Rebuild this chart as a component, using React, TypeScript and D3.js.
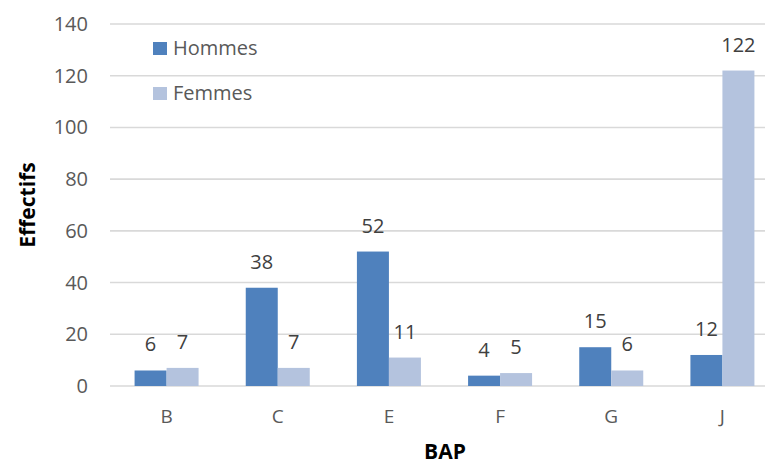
import * as React from 'react';
import * as d3 from 'd3';

const categories = ['B', 'C', 'E', 'F', 'G', 'J'];
const hommes = [6, 38, 52, 4, 15, 12];
const femmes = [7, 7, 11, 5, 6, 122];
const yTicks = [0, 20, 40, 60, 80, 100, 120, 140];
const seriesNames = ['Hommes', 'Femmes'];

const W = 765;
const H = 466;
const FONT = "'Open Sans', sans-serif";
const colors = ['#4F81BD', '#B4C3DE'];

export default function App() {
  const svgRef = React.useRef<SVGSVGElement>(null);

  React.useEffect(() => {
    if (!svgRef.current) return;
    const svg = d3.select(svgRef.current);
    svg.selectAll('*').remove();

    const left = 111;
    const right = 778;
    const top = 24;
    const bottom = 386;

    const x = d3.scaleBand().domain(categories).range([left, right]).paddingInner(0).paddingOuter(0);
    const y = d3.scaleLinear().domain([0, 140]).range([bottom, top]);
    const barW = 32;

    // gridlines
    svg
      .append('g')
      .selectAll('line')
      .data(yTicks)
      .enter()
      .append('line')
      .attr('x1', left - 1)
      .attr('x2', right)
      .attr('y1', (d) => y(d))
      .attr('y2', (d) => y(d))
      .attr('stroke', '#D9D9D9')
      .attr('stroke-width', 1.6);

    // y tick labels
    svg
      .append('g')
      .selectAll('text')
      .data(yTicks)
      .enter()
      .append('text')
      .attr('x', 88)
      .attr('y', (d) => y(d))
      .attr('dy', '0.35em')
      .attr('text-anchor', 'end')
      .style('font-family', FONT)
      .style('font-size', '20px')
      .attr('fill', '#595959')
      .text((d) => d);

    const series = [hommes, femmes];
    series.forEach((vals, si) => {
      const g = svg.append('g');
      const xpos = (i: number) => (x(categories[i]) as number) + x.bandwidth() / 2 + (si === 0 ? -barW : 0);
      g.selectAll('rect')
        .data(vals)
        .enter()
        .append('rect')
        .attr('x', (_d, i) => xpos(i))
        .attr('y', (d) => y(d))
        .attr('width', barW)
        .attr('height', (d) => bottom - y(d))
        .attr('fill', colors[si]);
      g.selectAll('text')
        .data(vals)
        .enter()
        .append('text')
        .attr('x', (_d, i) => xpos(i) + barW / 2)
        .attr('y', (d) => y(d) - 19)
        .attr('text-anchor', 'middle')
        .style('font-family', FONT)
        .style('font-size', '20px')
        .attr('fill', '#404040')
        .text((d) => d);
    });

    // category labels
    svg
      .append('g')
      .selectAll('text')
      .data(categories)
      .enter()
      .append('text')
      .attr('x', (d) => (x(d) as number) + x.bandwidth() / 2)
      .attr('y', 416)
      .attr('dy', '0.35em')
      .attr('text-anchor', 'middle')
      .style('font-family', FONT)
      .style('font-size', '19px')
      .attr('fill', '#595959')
      .text((d) => d);

    // axis titles
    svg
      .append('text')
      .attr('x', 445)
      .attr('y', 459)
      .attr('text-anchor', 'middle')
      .style('font-family', FONT)
      .style('font-size', '21px')
      .style('font-weight', 'bold')
      .attr('fill', '#000')
      .text('BAP');
    svg
      .append('text')
      .attr('transform', `translate(28, 205) rotate(-90)`)
      .attr('dy', '0.35em')
      .attr('text-anchor', 'middle')
      .style('font-family', FONT)
      .style('font-size', '21px')
      .style('font-weight', 'bold')
      .attr('fill', '#000')
      .text('Effectifs');

    // legend
    const legend = svg.append('g');
    seriesNames.forEach((name, i) => {
      const cy = 48 + i * 45;
      legend
        .append('rect')
        .attr('x', 153)
        .attr('y', cy - 6)
        .attr('width', 14)
        .attr('height', 13)
        .attr('fill', colors[i]);
      legend
        .append('text')
        .attr('x', 173)
        .attr('y', cy)
        .attr('dy', '0.35em')
        .style('font-family', FONT)
        .style('font-size', '20px')
        .attr('fill', '#595959')
        .text(name);
    });
  }, []);

  return (
    <svg
      ref={svgRef}
      width={W}
      height={H}
      style={{ position: 'absolute', left: 0, top: 0, background: '#fff' }}
    />
  );
}
